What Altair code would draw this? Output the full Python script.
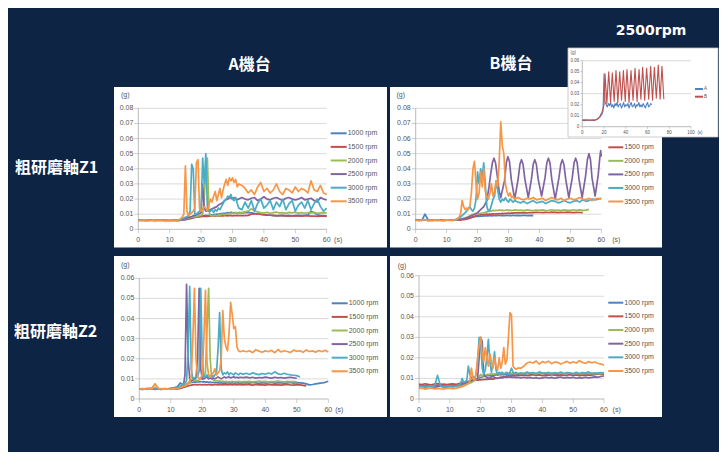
import altair as alt
import pandas as pd

NAVY = "#0d2445"
GRID_COLOR = "#d0d0d0"
AXIS_COLOR = "#a8a8a8"
TEXT_COLOR = "#555555"
TICK_FONT = "Liberation Sans"
CJK_FONT = "Noto Sans CJK TC"

TITLES = ["A機台", "B機台", "粗研磨軸Z1", "粗研磨軸Z2", "2500rpm"]

RPM = ["1000 rpm", "1500 rpm", "2000 rpm", "2500 rpm", "3000 rpm", "3500 rpm"]
RPM_COLORS = ["#4F81BD", "#C0504D", "#9BBB59", "#8064A2", "#4BACC6", "#F79646"]
COLOR_OF = dict(zip(RPM, RPM_COLORS))

# sampling instants (s)
GRID_T = [0, 1, 2, 3, 4, 5, 6, 7, 8, 9, 10, 11, 12,
          12.5, 13, 13.5, 14, 14.5, 15, 15.5, 16, 16.5, 17, 17.5, 18, 18.5, 19, 19.5, 20,
          20.5, 21, 21.5, 22, 22.5, 23, 23.5, 24, 24.5, 25, 25.5, 26, 26.5, 27, 27.5, 28,
          28.5, 29, 29.5, 30, 30.5, 31, 31.5, 32,
          33, 34, 35, 36, 37, 38, 39, 40, 41, 42, 43, 44, 45, 46, 47, 48, 49, 50,
          51, 52, 53, 54, 55, 56, 57, 58, 59, 60]

# ---- values in units of 0.001 g ----
# A machine, Z1
A1_1000 = ([6.1, 5.9, 6.2, 6.0, 5.8, 6.3, 6.0, 5.9, 6.1, 5.8, 6.0, 6.2, 5.9]
           + [6.0, 5.9, 6.0, 6.1, 6.2, 6.3, 6.5, 6.8, 7.0, 7.2, 7.5, 7.8, 8.0, 8.2, 8.3, 8.5, 8.8, 9.0, 9.2, 9.0,
              9.3, 9.5, 9.4, 9.6, 9.8, 10.0, 9.9, 10.2, 10.4, 10.6, 10.5, 10.8, 11.0, 10.8, 11.2, 11.0, 10.9, 11.1, 10.8, 11.0]
           + [10.8, 11.0, 11.2, 10.9, 10.5, 10.2, 10.0, 9.8, 9.5, 9.3, 9.0, 8.8, 9.0, 9.2, 8.9, 9.1, 8.8, 9.0, 9.2, 9.0,
              9.3, 9.5, 12.0, 11.0, 9.5, 9.2, 9.0, 8.9])
A1_1500 = ([6.0, 5.8, 6.1, 5.9, 6.2, 5.7, 6.0, 6.1, 5.8, 6.0, 5.9, 6.1, 5.8]
           + [5.8, 5.9, 6.0, 6.2, 6.3, 6.5, 6.7, 7.0, 7.2, 7.5, 7.8, 8.0, 8.2, 8.3, 8.4, 8.5, 8.6, 8.5, 8.7, 8.6,
              8.8, 8.7, 8.9, 8.8, 8.7, 8.9, 9.0, 8.8, 9.0, 8.9, 9.1, 9.0, 8.9, 9.1, 9.0, 8.9, 9.1, 9.0, 9.2, 9.0]
           + [9.1, 9.0, 9.2, 10.0, 10.2, 10.1, 9.8, 9.6, 9.4, 9.3, 9.2, 9.0, 9.1, 9.0, 8.9, 9.0, 8.8, 9.0, 8.9, 8.7,
              8.8, 8.9, 8.7, 8.8, 8.6, 8.7, 8.8, 8.5])
A1_2000 = ([6.2, 6.0, 5.8, 6.1, 6.3, 5.9, 6.0, 6.2, 5.8, 6.1, 6.0, 5.9, 6.1]
           + [6.0, 6.0, 6.2, 6.5, 6.8, 7.0, 7.2, 7.5, 7.8, 8.0, 8.2, 8.5, 8.3, 8.8, 9.0, 9.2, 10.0, 20.0, 40.0, 47.0,
              12.0, 9.0, 8.8, 9.0, 9.2, 8.8, 9.5, 9.3, 9.8, 10.0, 9.6, 10.2, 10.0, 10.5, 10.2, 10.8, 10.4, 11.0, 10.6, 11.0]
           + [11.0, 11.5, 12.0, 13.5, 12.5, 11.5, 11.0, 10.8, 11.2, 10.6, 11.0, 11.4, 10.8, 11.0, 10.5, 11.2, 10.9, 11.3,
              10.7, 11.0, 10.6, 11.1, 10.8, 11.2, 10.5, 10.9, 11.0, 10.7])
A1_2500 = ([5.9, 6.1, 6.0, 5.8, 6.2, 6.0, 5.9, 6.1, 6.3, 5.9, 6.0, 5.8, 6.1]
           + [6.0, 6.1, 6.3, 6.6, 7.0, 7.2, 7.5, 8.0, 8.2, 8.5, 9.0, 9.2, 9.5, 10.0, 10.5, 11.0, 30.0, 14.0, 12.0, 12.0,
              12.5, 13.0, 13.5, 14.0, 14.5, 15.0, 16.0, 16.5, 17.0, 18.0, 19.0, 19.5, 20.0, 20.5, 21.0, 20.0, 21.0, 20.5, 19.5, 20.0]
           + [21.0, 20.0, 19.5, 20.5, 21.0, 19.0, 20.0, 21.5, 20.0, 19.5, 20.5, 21.0, 20.0, 19.0, 20.5, 21.0, 20.0, 19.5,
              20.0, 21.0, 19.5, 20.0, 20.5, 19.0, 18.0, 21.0, 20.0, 19.5])
A1_3000 = ([6.0, 6.2, 5.9, 6.1, 5.8, 6.0, 6.3, 5.9, 6.0, 6.2, 5.8, 6.1, 6.0]
           + [6.0, 6.2, 6.5, 7.0, 7.5, 8.0, 8.5, 9.0, 12.0, 43.0, 40.0, 10.0, 10.0, 11.0, 12.0, 14.0, 47.0, 30.0, 50.0, 15.0,
              12.0, 12.0, 13.0, 11.0, 13.0, 12.0, 14.0, 13.0, 15.0, 17.0, 19.0, 20.0, 22.0, 21.0, 23.0, 20.0, 19.0, 21.0, 17.0, 14.0]
           + [13.0, 18.0, 14.0, 19.0, 12.0, 17.0, 20.0, 14.0, 16.0, 19.0, 13.0, 18.0, 15.0, 20.0, 13.0, 17.0, 19.0, 12.0,
              16.0, 18.0, 14.0, 19.0, 13.0, 17.0, 20.0, 15.0, 12.0, 14.0])
A1_3500 = ([5.8, 6.1, 6.3, 5.9, 6.0, 6.2, 5.7, 6.1, 6.0, 5.9, 6.2, 6.0, 5.8]
           + [6.0, 6.5, 7.0, 8.0, 10.0, 42.0, 12.0, 9.0, 10.0, 11.0, 12.0, 14.0, 44.0, 46.0, 14.0, 12.0, 13.0, 15.0, 14.0, 12.0,
              16.0, 20.0, 18.0, 22.0, 25.0, 19.0, 23.0, 27.0, 21.0, 26.0, 30.0, 33.0, 29.0, 34.0, 32.0, 34.0, 31.0, 33.0, 28.0, 30.0]
           + [29.0, 27.0, 24.0, 26.0, 23.0, 28.0, 31.0, 25.0, 27.0, 24.0, 26.0, 30.0, 25.0, 23.0, 27.0, 26.0, 24.0, 28.0,
              25.0, 27.0, 26.0, 24.0, 32.0, 26.0, 25.0, 29.0, 24.0, 23.0])

# B machine, Z1
B1_1000 = ([6.0, 6.2, 5.9, 10.0, 6.3, 6.1, 5.8, 6.0, 6.2, 5.9, 6.1, 6.0, 5.8]
           + [6.0, 6.1, 6.2, 6.3, 6.5, 6.6, 6.8, 7.0, 7.1, 7.3, 7.5, 7.8, 8.0, 8.3, 8.5, 8.7, 8.6, 8.8, 8.7, 8.9,
              8.8, 9.0, 8.9, 9.1, 8.9, 9.0, 9.2, 9.0, 9.1, 9.3, 9.0, 9.2, 9.1, 9.0, 9.3, 9.1, 9.2, 9.0, 9.3, 9.1]
           + [9.2, 9.0, 9.3, 9.1, 9.2, 9.0])
B1_1500 = ([6.0, 5.8, 6.1, 6.3, 5.9, 6.0, 6.2, 5.8, 6.1, 5.9, 6.0, 6.2, 6.0]
           + [6.0, 6.1, 6.0, 6.2, 6.1, 6.3, 6.4, 6.5, 6.7, 7.0, 7.3, 7.8, 8.2, 8.6, 9.0, 9.3, 9.5, 9.6, 9.8, 9.7,
              9.9, 10.0, 9.9, 10.1, 10.0, 10.2, 10.1, 10.3, 10.2, 10.4, 10.3, 10.5, 10.4, 10.6, 10.5, 10.7, 10.6, 10.8, 10.7, 10.8]
           + [10.9, 10.8, 11.0, 10.9, 11.1, 11.0, 11.2, 11.1, 11.0, 11.2, 11.1, 11.3, 11.2, 11.0, 11.2, 11.1, 11.3, 11.2,
              11.0, 11.2, 11.1, 11.0])
B1_2000 = ([6.1, 5.9, 6.0, 6.2, 5.8, 6.1, 6.0, 5.9, 6.2, 6.0, 5.8, 6.1, 6.0]
           + [6.0, 6.2, 6.3, 6.5, 6.8, 7.0, 7.3, 7.6, 8.0, 8.5, 9.0, 9.5, 9.8, 10.0, 10.3, 10.5, 10.4, 10.6, 10.8, 11.0,
              11.2, 11.5, 11.8, 12.0, 12.2, 12.5, 12.3, 12.6, 12.4, 12.8, 12.5, 12.7, 12.4, 12.6, 12.8, 12.5, 12.7, 12.4, 12.6, 12.8]
           + [12.5, 12.7, 12.4, 12.8, 12.6, 12.3, 12.7, 12.5, 12.8, 12.4, 12.6, 12.9, 12.5, 12.7, 12.4, 12.8, 12.6, 12.5,
              12.9, 12.6, 12.8, 12.5, 12.7, 13.2])
B1_2500_T = [0, 2, 4, 6, 8, 10, 12, 14, 15, 16, 17, 18, 19, 20, 21, 22, 23, 23.7, 24.2, 24.8, 25.3, 25.8, 26.4, 27, 27.5,
             28.7, 29.3, 29.8, 30.3, 30.9, 32,
             33.1, 33.7, 34.2, 34.7, 35.3, 36.4,
             37.4, 38, 38.5, 39, 39.6, 40.7,
             41.8, 42.4, 42.9, 43.4, 44, 45.1,
             46.3, 46.9, 47.4, 47.9, 48.5, 49.5,
             50.6, 51.2, 51.7, 52.2, 52.8, 53.8,
             54.9, 55.5, 56, 56.5, 57, 58,
             59, 59.5, 59.8, 60]
B1_2500 = [6.0, 6.2, 5.9, 6.1, 6.3, 6.0, 6.2, 6.5, 6.8, 7.3, 8.0, 9.0, 10.0, 11.0, 13.0, 15.0, 19.0, 28.0, 36.0, 44.0,
           47.0, 44.0, 35.0, 25.0, 21.0,
           32, 44, 48, 45, 33, 20,
           33, 43, 46, 43, 33, 21,
           33, 43, 46, 43, 33, 22,
           34, 44, 47, 44, 33, 20,
           34, 43, 46, 43, 33, 21,
           34, 44, 47, 44, 33, 21,
           35, 46, 50, 46, 34, 22,
           36, 47, 52, 48]
B1_3000 = ([6.0, 6.1, 5.9, 6.2, 6.0, 5.8, 6.1, 6.3, 6.0, 5.9, 6.2, 6.0, 6.1]
           + [6.2, 6.4, 6.8, 7.2, 8.0, 9.0, 10.0, 11.0, 12.0, 14.0, 15.0, 13.0, 12.0, 14.0, 20.0, 38.0, 30.0, 40.0, 35.0, 44.0,
              30.0, 15.0, 12.0, 13.0, 16.0, 20.0, 22.0, 32.0, 26.0, 20.0, 18.0, 20.0, 19.0, 21.0, 19.0, 18.0, 20.0, 19.0, 18.0, 19.0]
           + [18.0, 17.5, 18.5, 17.0, 18.0, 19.0, 17.5, 18.0, 18.5, 17.0, 18.0, 19.0, 18.5, 17.5, 18.0, 19.0, 18.0, 17.5,
              18.5, 19.0, 18.0, 19.5, 18.5, 19.0, 20.0, 19.5, 20.0, 20.5])
B1_3500 = ([6.0, 5.8, 6.2, 6.4, 6.0, 5.9, 6.1, 6.3, 5.8, 6.0, 6.2, 5.9, 6.1]
           + [6.2, 6.5, 7.0, 8.0, 10.0, 19.0, 15.0, 13.0, 14.0, 13.0, 15.0, 24.0, 40.0, 45.0, 30.0, 20.0, 24.0, 38.0, 28.0, 40.0,
              25.0, 22.0, 20.0, 24.0, 30.0, 22.0, 25.0, 32.0, 28.0, 45.0, 71.0, 55.0, 50.0, 30.0, 25.0, 22.0, 24.0, 21.0, 22.0, 20.0]
           + [21.0, 20.0, 19.5, 20.5, 20.0, 21.0, 19.5, 20.0, 20.5, 19.0, 20.0, 21.0, 20.0, 19.5, 20.5, 19.0, 20.0, 20.5,
              19.5, 20.0, 21.0, 20.0, 19.5, 20.5, 19.0, 20.0, 20.5, 20.0])

# A machine, Z2
A2_1000 = ([5.0, 4.8, 5.0, 5.2, 4.9, 5.1, 5.0, 4.8, 5.0, 5.1, 5.3, 5.6, 6.0]
           + [7.0, 8.0, 7.5, 7.0, 7.2, 7.5, 7.8, 8.0, 8.2, 8.3, 8.5, 8.4, 8.6, 8.5, 8.7, 8.5, 8.6, 8.4, 8.5, 8.3,
              8.4, 8.2, 8.3, 8.1, 8.2, 8.0, 8.1, 8.0, 7.9, 8.0, 7.9, 8.1, 8.0, 7.9, 8.1, 8.0, 7.9, 8.1, 8.0, 7.9]
           + [8.0, 8.1, 7.9, 8.2, 8.0, 7.8, 8.1, 7.9, 8.0, 8.2, 7.9, 8.0, 8.1, 7.8, 8.0, 8.2, 7.9, 8.1, 8.0, 7.9,
              7.5, 7.0, 7.2, 7.5, 7.8, 8.0, 8.3, 8.8])
A2_1500 = ([5.0, 5.1, 4.9, 5.0, 5.2, 4.8, 5.0, 5.1, 4.9, 5.0, 5.2, 5.0, 5.1]
           + [5.2, 5.3, 5.5, 5.7, 6.0, 6.2, 6.5, 6.7, 6.9, 7.0, 7.1, 7.2, 7.0, 7.2, 7.1, 7.0, 7.2, 7.1, 7.0, 7.2,
              7.0, 7.1, 7.0, 7.2, 7.1, 7.0, 7.2, 7.1, 7.0, 7.2, 7.1, 7.0, 7.2, 7.1, 7.0, 7.2, 7.1, 7.0, 7.2, 7.1]
           + [7.0, 7.2, 7.1, 6.9, 7.2, 7.0, 7.1, 6.9, 7.2, 7.0, 7.1, 7.0, 6.9, 7.1, 7.2, 7.0, 6.9, 7.1, 7.0, 6.8, 6.5])
A2_2000 = ([5.0, 5.1, 4.9, 5.2, 5.5, 7.5, 5.3, 5.0, 4.9, 5.1, 5.0, 5.2, 5.3]
           + [5.5, 5.8, 6.0, 6.3, 6.5, 7.0, 7.5, 8.0, 8.5, 9.0, 9.0, 9.5, 9.0, 9.5, 10.0, 10.0, 11.0, 13.0, 35.0, 55.0,
              20.0, 10.0, 9.5, 9.0, 9.2, 8.8, 9.0, 8.7, 8.9, 8.6, 8.8, 8.5, 8.7, 8.6, 8.8, 8.5, 8.7, 8.6, 8.8, 8.5]
           + [8.7, 8.6, 8.8, 8.5, 8.7, 8.9, 8.6, 8.8, 8.5, 8.7, 8.6, 8.9, 8.7, 8.5, 8.8, 8.6, 8.7, 8.5])
A2_2500 = ([5.0, 4.8, 5.2, 5.0, 4.9, 5.3, 5.0, 4.8, 5.1, 5.0, 4.9, 5.2, 5.0]
           + [5.3, 5.5, 5.8, 6.5, 12.0, 57.0, 20.0, 10.0, 9.0, 9.5, 10.0, 10.5, 20.0, 55.0, 15.0, 10.0, 10.0, 10.5, 11.0, 10.0,
              10.5, 10.0, 10.5, 10.0, 10.5, 11.0, 10.5, 10.0, 10.5, 11.0, 10.5, 10.8, 11.0, 10.5, 10.8, 11.0, 10.6, 10.8, 10.5, 10.8]
           + [10.6, 10.9, 10.5, 10.8, 10.4, 10.7, 10.5, 10.9, 10.6, 10.4, 10.8, 10.5, 10.7, 10.4, 10.6, 10.8, 10.5, 10.3])
A2_3000 = ([5.0, 5.2, 4.9, 5.1, 5.0, 5.3, 4.9, 5.0, 5.2, 5.0, 5.1, 5.4, 5.8]
           + [6.0, 6.5, 7.0, 7.5, 8.0, 9.0, 25.0, 56.0, 15.0, 10.0, 10.5, 11.0, 11.0, 14.0, 55.0, 20.0, 11.0, 11.0, 12.0, 11.0,
              11.5, 12.0, 11.0, 12.0, 13.0, 25.0, 43.0, 15.0, 12.0, 13.0, 12.5, 13.5, 12.0, 13.0, 12.5, 12.0, 13.0, 12.5, 12.0, 12.8]
           + [12.4, 12.8, 12.2, 13.0, 12.5, 12.1, 12.7, 12.3, 12.9, 12.4, 13.5, 12.6, 12.2, 12.8, 12.3, 12.0, 11.8, 11.6, 11.0])
A2_3500 = ([5.0, 4.9, 5.1, 5.3, 5.0, 7.5, 5.2, 4.9, 5.0, 5.1, 4.8, 5.0, 5.2]
           + [5.5, 5.8, 6.0, 6.3, 6.8, 7.5, 8.0, 9.0, 11.0, 30.0, 55.0, 20.0, 11.0, 10.0, 10.5, 12.0, 30.0, 54.0, 18.0, 12.0,
              11.0, 12.0, 13.0, 15.0, 12.0, 13.0, 14.0, 20.0, 44.0, 30.0, 26.0, 24.0, 33.0, 48.0, 42.0, 35.0, 36.0, 26.0, 24.0, 23.5]
           + [24.0, 23.5, 24.0, 23.0, 24.5, 23.8, 23.2, 24.0, 23.5, 24.2, 23.0, 24.6, 23.4, 24.0, 23.6, 23.1, 24.3, 23.7,
              24.0, 23.2, 24.4, 23.6, 23.9, 23.3, 24.1, 23.5, 24.2, 23.4])

# B machine, Z2
B2_1000 = ([6.5, 6.8, 6.3, 6.6, 6.9, 6.4, 6.7, 6.5, 6.3, 6.6, 6.8, 6.5, 6.7]
           + [6.8, 7.0, 7.2, 7.5, 7.8, 8.0, 8.2, 8.5, 8.7, 9.0, 9.2, 9.5, 9.7, 10.0, 10.2, 10.5, 10.8, 11.0, 11.2, 11.5,
              11.3, 11.6, 11.4, 11.7, 11.5, 11.8, 11.6, 11.9, 11.7, 12.0, 11.8, 12.1, 11.9, 12.2, 12.0, 12.3, 12.1, 12.4, 12.2, 12.0]
           + [12.3, 12.1, 12.5, 12.2, 12.0, 12.4, 12.1, 12.6, 12.2, 12.0, 12.5, 12.3, 12.1, 12.4, 12.2, 12.6, 12.1, 12.3,
              12.5, 12.0, 12.4, 12.2, 12.6, 12.3, 12.1, 12.5, 12.2, 12.4])
B2_1500 = ([7.2, 7.0, 7.4, 7.1, 6.9, 7.3, 7.5, 7.1, 7.3, 7.0, 7.2, 7.4, 7.1]
           + [7.3, 7.5, 7.7, 7.9, 8.0, 8.2, 8.4, 8.5, 8.7, 8.8, 9.0, 9.1, 9.3, 9.2, 9.4, 9.3, 9.5, 9.4, 9.6, 9.5,
              9.7, 9.6, 9.8, 9.7, 9.9, 10.0, 10.2, 10.3, 10.5, 10.7, 10.9, 11.0, 11.2, 11.3, 11.2, 11.4, 11.3, 11.5, 11.4, 11.6]
           + [11.5, 11.7, 11.4, 11.6, 11.8, 11.5, 11.7, 11.4, 11.6, 11.5, 11.8, 11.6, 11.4, 11.7, 11.5, 11.6, 11.8, 11.5,
              11.7, 11.4, 11.6, 11.5, 11.7, 11.6, 11.8, 12.2, 12.5, 11.8])
B2_2000 = ([6.0, 6.2, 5.8, 6.1, 6.3, 5.9, 6.0, 6.2, 5.8, 6.1, 6.0, 6.2, 6.1]
           + [6.2, 6.4, 6.5, 6.7, 6.9, 7.1, 7.3, 7.5, 7.8, 8.0, 8.5, 9.0, 9.5, 10.0, 11.0, 12.0, 11.0, 12.0, 11.5, 12.0,
              11.8, 12.2, 12.0, 12.3, 12.1, 12.4, 12.2, 12.5, 12.3, 12.6, 12.4, 12.5, 12.7, 12.4, 12.6, 12.5, 12.7, 12.4, 12.6, 12.5]
           + [12.4, 12.6, 12.3, 12.7, 12.5, 12.2, 12.6, 12.4, 12.8, 12.3, 12.5, 12.7, 12.4, 12.6, 12.3, 12.5, 12.7, 12.4,
              12.6, 12.2, 12.5, 12.7, 12.4, 12.6, 12.3, 12.5, 12.4, 12.6])
B2_2500 = ([6.0, 6.3, 5.9, 6.2, 6.0, 5.8, 6.1, 6.4, 6.0, 5.9, 6.2, 6.0, 6.3]
           + [6.5, 6.8, 7.0, 7.3, 7.5, 7.8, 8.0, 8.3, 8.6, 9.0, 9.3, 9.5, 9.8, 10.0, 20.0, 30.0, 28.0, 12.0, 11.0, 10.5,
              10.0, 10.5, 10.8, 11.0, 10.5, 10.2, 10.0, 10.3, 10.5, 10.2, 10.6, 10.8, 10.5, 10.9, 10.6, 10.8, 10.5, 10.7, 10.4, 10.6]
           + [10.3, 10.6, 10.2, 10.5, 10.1, 10.4, 10.0, 10.3, 10.6, 10.2, 10.5, 10.1, 10.4, 10.7, 10.2, 10.5, 10.3, 10.6,
              10.1, 10.4, 10.2, 10.6, 10.3, 10.5, 10.8, 10.6, 11.0, 11.2])
B2_3000 = ([6.0, 6.2, 5.9, 6.1, 6.3, 6.0, 11.5, 6.2, 5.9, 6.1, 6.3, 6.0, 6.2]
           + [6.5, 7.0, 7.5, 10.0, 8.0, 8.5, 9.0, 16.0, 12.0, 10.0, 11.0, 10.0, 12.0, 18.0, 30.0, 28.0, 15.0, 12.0, 14.0, 20.0,
              29.0, 18.0, 13.0, 17.0, 23.0, 14.0, 12.0, 13.0, 12.5, 13.0, 12.0, 12.5, 13.0, 12.0, 13.0, 15.0, 13.0, 12.5, 13.0, 12.3]
           + [12.8, 12.2, 13.1, 12.5, 12.9, 12.3, 13.2, 12.6, 12.4, 13.0, 12.2, 12.8, 12.5, 13.1, 12.3, 12.9, 12.6, 12.2,
              13.0, 12.4, 12.8, 12.5, 13.2, 12.3, 12.7, 12.5, 12.9, 12.6])
B2_3500 = ([5.0, 5.3, 4.8, 5.1, 5.4, 4.9, 5.2, 5.0, 4.8, 5.1, 5.3, 5.0, 5.2]
           + [5.4, 5.6, 5.8, 6.0, 6.3, 6.6, 7.0, 7.5, 9.0, 15.0, 10.0, 9.0, 12.0, 20.0, 26.0, 30.0, 22.0, 18.0, 25.0, 20.0,
              16.0, 22.0, 18.0, 15.0, 20.0, 16.0, 14.0, 20.0, 15.0, 18.0, 25.0, 17.0, 19.0, 30.0, 42.0, 41.0, 16.0, 15.0, 14.5, 15.0]
           + [15.0, 16.0, 17.5, 18.0, 17.5, 18.5, 17.0, 18.2, 17.6, 18.4, 17.2, 18.0, 17.8, 17.0, 17.6, 18.3, 17.4, 18.1,
              17.5, 18.6, 17.8, 17.3, 18.2, 17.6, 18.0, 17.4, 17.0, 16.5])

# inset: 2500 rpm, A vs B
INSET_A_T = [0, 2, 4, 6, 8, 10, 12, 14, 16, 17, 18, 19, 19.5, 20, 20.5, 21,
             22, 23, 24, 25, 26, 27, 28, 29, 30, 31, 32, 33, 34, 35, 36, 37, 38, 39, 40, 41, 42, 43,
             44, 45, 46, 47, 48, 49, 50, 51, 52, 53, 54, 55, 56, 57, 58, 59, 60, 61, 62, 63, 64]
INSET_A_V = [6, 5.5, 6.2, 5.8, 6, 5.6, 6.1, 7, 8.5, 10, 11, 14, 30, 48, 35, 22,
             20, 18, 21, 19, 22, 18, 20, 17, 21, 19, 22, 18, 20, 21, 17, 19, 22, 18, 20, 19, 21, 17,
             20, 22, 18, 19, 21, 17, 20, 19, 22, 18, 20, 18, 21, 19, 17, 20, 22, 18, 19, 21, 20]
INSET_B_T = [0, 2, 4, 6, 8, 10, 12, 14, 16, 17, 18, 19, 20,
             20.9, 22.6, 24.3, 26, 27.6, 29.3, 31, 32.7, 34.4, 36.1, 37.8, 39.5, 41.1, 43, 44.8, 46.7,
             48.5, 50.4, 52.2, 53.9, 55.5, 57.4, 59.2, 61.1, 62.9, 64.6, 66.3, 68.1, 69.9, 71.6, 73.3, 75]
INSET_B_V = [6, 6.3, 5.8, 6.1, 5.9, 6.2, 6, 7, 9, 11, 13, 16, 20,
             48, 21, 50, 22, 49, 23, 51, 22, 50, 24, 51, 23, 52, 22, 51, 24,
             53, 23, 52, 25, 54, 24, 53, 25, 55, 24, 54, 26, 56, 25, 55, 25]
INSET_SERIES = ["A", "B"]
INSET_COLORS = ["#4F81BD", "#C0504D"]

X_TICKS = [0, 10, 20, 30, 40, 50, 60]
X_LABELS = ["0", "10", "20", "30", "40", "50", "60"]
Y_TICKS_Z1 = [0, 10, 20, 30, 40, 50, 60, 70, 80]
Y_LABELS_Z1 = ["0", "0.01", "0.02", "0.03", "0.04", "0.05", "0.06", "0.07", "0.08"]
Y_TICKS_Z2 = [0, 10, 20, 30, 40, 50, 60]
Y_LABELS_Z2 = ["0", "0.01", "0.02", "0.03", "0.04", "0.05", "0.06"]
INSET_X_TICKS = [0, 20, 40, 60, 80, 100]
INSET_X_LABELS = ["0", "20", "40", "60", "80", "100"]
INSET_Y_TICKS = [0, 10, 20, 30, 40, 50, 60]
INSET_Y_LABELS = ["0", "0.01", "0.02", "0.03", "0.04", "0.05", "0.06"]
INSET_GRID = [30, 60]

ONE = pd.DataFrame({"k": [0]})


def series_df(t, v):
    return pd.DataFrame({"t": t[:len(v)], "v": v})


def box(x1, x2, y1, y2, stroke=None):
    kw = {"color": "white"}
    if stroke:
        kw = {"fill": "white", "stroke": stroke, "strokeWidth": 0.8}
    return alt.Chart(ONE).mark_rect(**kw).encode(
        x=alt.value(x1), x2=alt.value(x2), y=alt.value(y1), y2=alt.value(y2))


def title(text, x, y, size, font=CJK_FONT):
    return alt.Chart(ONE).mark_text(text=text, font=font, fontSize=size, fontWeight="bold",
                                    color="white", align="center", baseline="middle").encode(
        x=alt.value(x), y=alt.value(y))


def panel(series, xr, yr, xmax, ymax, yticks, ylabels, xticks, xlabels, grid_vals,
          legend_names, legend_colors, leg_x, leg_len, leg_y, g_off, s_off,
          fs=7, lw=1.7, ylab_dx=-5, xlab_dy=11, tick_len=4):
    sx = alt.Scale(domain=[0, xmax], range=xr, nice=False, zero=False)
    sy = alt.Scale(domain=[0, ymax], range=yr, nice=False, zero=False)
    L = []
    L.append(alt.Chart(pd.DataFrame({"v": grid_vals})).mark_rule(color=GRID_COLOR, strokeWidth=0.8).encode(
        x=alt.XDatum(0, scale=sx, axis=None), x2=alt.X2Datum(xmax),
        y=alt.Y("v:Q", scale=sy, axis=None)))
    L.append(alt.Chart(ONE).mark_rule(color=AXIS_COLOR, strokeWidth=0.8).encode(
        x=alt.XDatum(0, scale=sx, axis=None), y=alt.YDatum(0, scale=sy, axis=None), y2=alt.Y2Datum(ymax)))
    L.append(alt.Chart(ONE).mark_rule(color=AXIS_COLOR, strokeWidth=0.8).encode(
        x=alt.XDatum(0, scale=sx, axis=None), x2=alt.X2Datum(xmax), y=alt.YDatum(0, scale=sy, axis=None)))
    L.append(alt.Chart(pd.DataFrame({"t": xticks})).mark_tick(
        orient="vertical", size=tick_len, thickness=0.8, color=AXIS_COLOR, yOffset=tick_len / 2).encode(
        x=alt.X("t:Q", scale=sx, axis=None), y=alt.YDatum(0, scale=sy, axis=None)))
    L.append(alt.Chart(pd.DataFrame({"v": yticks})).mark_tick(
        orient="horizontal", size=tick_len, thickness=0.8, color=AXIS_COLOR, xOffset=-tick_len / 2).encode(
        y=alt.Y("v:Q", scale=sy, axis=None), x=alt.XDatum(0, scale=sx, axis=None)))
    L.append(alt.Chart(pd.DataFrame({"v": yticks, "label": ylabels})).mark_text(
        align="right", baseline="middle", dx=ylab_dx, fontSize=fs, font=TICK_FONT, color=TEXT_COLOR).encode(
        x=alt.XDatum(0, scale=sx, axis=None), y=alt.Y("v:Q", scale=sy, axis=None), text="label:N"))
    L.append(alt.Chart(pd.DataFrame({"t": xticks, "label": xlabels})).mark_text(
        align="center", baseline="middle", dy=xlab_dy, fontSize=fs, font=TICK_FONT, color=TEXT_COLOR).encode(
        x=alt.X("t:Q", scale=sx, axis=None), y=alt.YDatum(0, scale=sy, axis=None), text="label:N"))
    L.append(alt.Chart(ONE).mark_text(
        text="(g)", align="center", baseline="middle", dx=g_off[0], dy=g_off[1], fontSize=fs,
        font=TICK_FONT, color=TEXT_COLOR).encode(
        x=alt.XDatum(0, scale=sx, axis=None), y=alt.YDatum(ymax, scale=sy, axis=None)))
    L.append(alt.Chart(ONE).mark_text(
        text="(s)", align="center", baseline="middle", dx=s_off[0], dy=s_off[1], fontSize=fs,
        font=TICK_FONT, color=TEXT_COLOR).encode(
        x=alt.XDatum(xmax, scale=sx, axis=None), y=alt.YDatum(0, scale=sy, axis=None)))
    for color, df in series:
        L.append(alt.Chart(df).mark_line(color=color, strokeWidth=lw, strokeJoin="round").encode(
            x=alt.X("t:Q", scale=sx, axis=None), y=alt.Y("v:Q", scale=sy, axis=None)))
    ldf = pd.DataFrame({"name": legend_names, "color": legend_colors})
    sl = alt.Scale(type="point", domain=legend_names, range=leg_y, padding=0)
    L.append(alt.Chart(ldf).mark_rule(strokeWidth=2).encode(
        y=alt.Y("name:N", scale=sl, axis=None), x=alt.value(leg_x), x2=alt.value(leg_x + leg_len),
        color=alt.Color("color:N", scale=None)))
    L.append(alt.Chart(ldf).mark_text(
        align="left", baseline="middle", fontSize=fs, font=TICK_FONT, color=TEXT_COLOR).encode(
        y=alt.Y("name:N", scale=sl, axis=None), x=alt.value(leg_x + leg_len + 1), text="name:N"))
    return L


def rpm_series(lists):
    return [(COLOR_OF[name], series_df(GRID_T, vals)) for name, vals in zip(RPM, lists)]


a1 = panel(rpm_series([A1_1000, A1_1500, A1_2000, A1_2500, A1_3000, A1_3500]),
           [130.3, 318.7], [221.3, 100.3], 60, 80, Y_TICKS_Z1, Y_LABELS_Z1, X_TICKS, X_LABELS,
           Y_TICKS_Z1[1:], RPM, RPM_COLORS, 322.7, 16, [125.3, 193.3], (-13, -13), (11.5, 11))

b1_series = rpm_series([B1_1000, B1_1500, B1_2000, B1_2500, B1_3000, B1_3500])
b1_series[3] = (COLOR_OF["2500 rpm"], series_df(B1_2500_T, B1_2500))
# the 1000 rpm legend entry of this panel is covered by the inset in the reference
b1 = panel(b1_series,
           [407.7, 593.3], [221.3, 100.3], 60, 80, Y_TICKS_Z1, Y_LABELS_Z1, X_TICKS, X_LABELS,
           Y_TICKS_Z1[1:], RPM[1:], RPM_COLORS[1:], 600.3, 15, [139.3, 193.5], (-15, -13), (15, 11))

a2 = panel(rpm_series([A2_1000, A2_1500, A2_2000, A2_2500, A2_3000, A2_3500]),
           [131.3, 320.3], [391, 270.3], 60, 60, Y_TICKS_Z2, Y_LABELS_Z2, X_TICKS, X_LABELS,
           Y_TICKS_Z2[1:], RPM, RPM_COLORS, 323.7, 16, [295.3, 363.3], (-14, -13), (11, 11))

b2 = panel(rpm_series([B2_1000, B2_1500, B2_2000, B2_2500, B2_3000, B2_3500]),
           [411, 596], [391, 267.7], 60, 60, Y_TICKS_Z2, Y_LABELS_Z2, X_TICKS, X_LABELS,
           Y_TICKS_Z2[1:], RPM, RPM_COLORS, 600.3, 15, [294.7, 363], (-17, -10), (12.7, 11))

inset = panel([(INSET_COLORS[0], series_df(INSET_A_T, INSET_A_V)),
               (INSET_COLORS[1], series_df(INSET_B_T, INSET_B_V))],
              [574.3, 683], [118.7, 52.7], 100, 60, INSET_Y_TICKS, INSET_Y_LABELS,
              INSET_X_TICKS, INSET_X_LABELS, INSET_GRID, INSET_SERIES, INSET_COLORS,
              687, 8, [81, 88.7], (-9, -8), (9, 6), fs=4.5, lw=1.1, ylab_dx=-3, xlab_dy=6, tick_len=2)

layers = [
    box(106, 379, 79, 239.5), box(382, 654, 79, 239.5),
    box(106, 379, 248, 409), box(382, 654, 248, 409),
]
layers += a1 + b1 + a2 + b2
layers.append(box(560, 710, 40, 129, stroke="#bfbfbf"))
layers += inset
layers += [
    title(TITLES[0], 241.5, 57, 16),
    title(TITLES[1], 503, 56, 16),
    title(TITLES[2], 48.5, 160, 16),
    title(TITLES[3], 47.5, 323.7, 16),
    title(TITLES[4], 643, 23, 14, font="DejaVu Sans"),
]

chart = alt.layer(*layers).resolve_scale(
    x="independent", y="independent"
).properties(
    width=711, height=444, background=NAVY, padding=0,
    autosize=alt.AutoSizeParams(type="none"),
).configure_view(stroke=None)

chart.save("out.html", embed_options={"renderer": "svg", "actions": False})
